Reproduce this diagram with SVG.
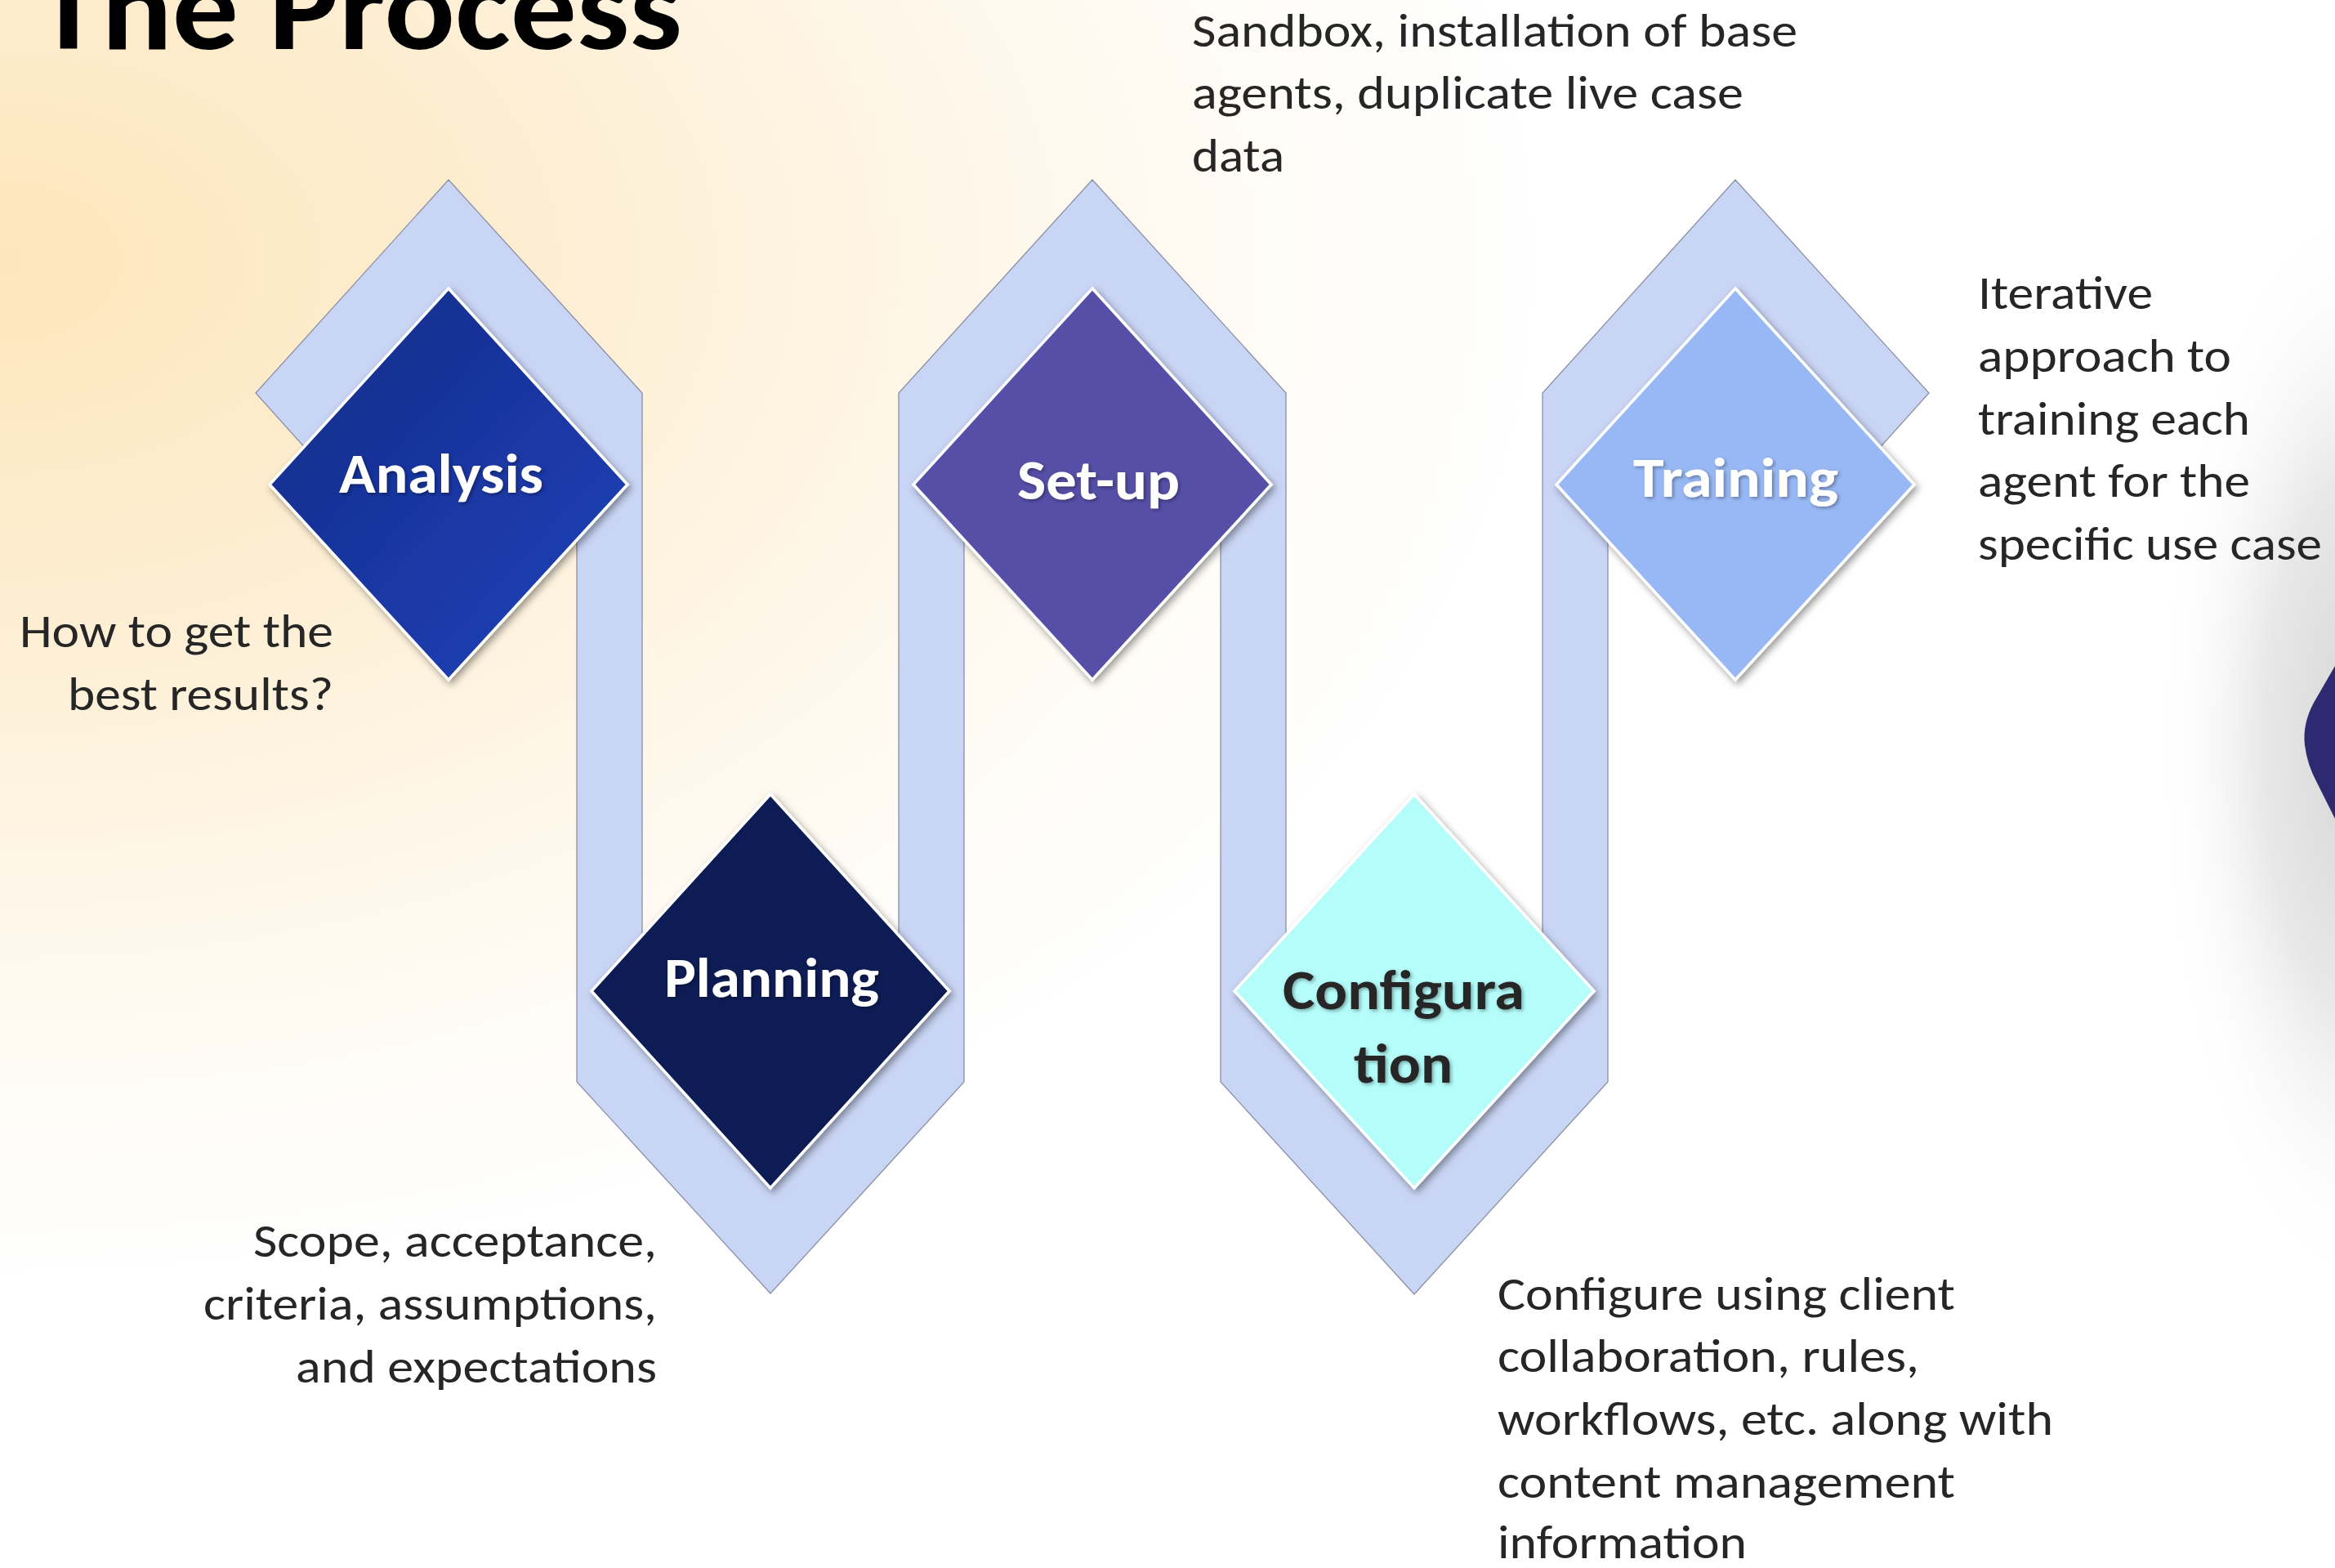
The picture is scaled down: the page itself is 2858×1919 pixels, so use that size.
<svg xmlns="http://www.w3.org/2000/svg" width="2858" height="1919" viewBox="0 0 2858 1919">
<defs>
<radialGradient id="bg" gradientUnits="userSpaceOnUse" cx="0" cy="320" r="1000" gradientTransform="translate(0,320) scale(1.9,1.25) translate(0,-320)">
<stop offset="0" stop-color="#fde6bb"/>
<stop offset="0.3" stop-color="#fdedcf"/>
<stop offset="0.6" stop-color="#fef6e7"/>
<stop offset="0.85" stop-color="#fffdf9"/>
<stop offset="1" stop-color="#ffffff"/>
</radialGradient>
<radialGradient id="rshade" gradientUnits="userSpaceOnUse" cx="2900" cy="910" r="260" gradientTransform="translate(2900,910) scale(1,2.6) translate(-2900,-910)">
<stop offset="0" stop-color="#d4d4d4"/>
<stop offset="0.5" stop-color="#e8e8e8"/>
<stop offset="1" stop-color="#ffffff" stop-opacity="0"/>
</radialGradient>
<linearGradient id="gA" x1="0" y1="0" x2="1" y2="1">
<stop offset="0" stop-color="#142a86"/>
<stop offset="1" stop-color="#1f42bc"/>
</linearGradient>
<filter id="sh" x="-20%" y="-20%" width="140%" height="140%">
<feDropShadow dx="3" dy="4" stdDeviation="5" flood-color="#000" flood-opacity="0.4"/>
</filter>
<filter id="tsh" x="-10%" y="-30%" width="120%" height="160%">
<feDropShadow dx="2" dy="2" stdDeviation="2" flood-color="#000" flood-opacity="0.35"/>
</filter>
<style>
.ribbon{fill:#c9d5f4;stroke:#8b90a6;stroke-width:1.3;stroke-linejoin:miter}
.dia{stroke:#ffffff;stroke-width:3.5;filter:url(#sh)}
.lbl{font-family:Carlito,Calibri,Lato,"Open Sans",sans-serif;font-weight:bold;font-size:68px;filter:url(#tsh)}
.body{font-family:Carlito,Calibri,Lato,"Open Sans",sans-serif;font-size:58px;fill:#262626}
.title{font-family:Carlito,Calibri,Lato,"Open Sans",sans-serif;font-weight:900;font-size:150px;fill:#000}
</style>
</defs>
<rect x="0" y="0" width="2858" height="1919" fill="url(#bg)"/>
<rect x="2560" y="150" width="298" height="1600" fill="url(#rshade)"/>
<path d="M2858,815 L2832,860 Q2818,886 2821,912 Q2824,936 2836,958 L2858,1002 Z" fill="#2e2a72"/>

<text class="title" x="44" y="60" textLength="791" lengthAdjust="spacingAndGlyphs">The Process</text>

<g id="connectors">
<path class="ribbon" d="M313,481 L549,220 L786,481 L786,1200 L943,1300 L1100,1200 L1100,481 L1337,220 L1574,481 L1574,1200 L1731,1300 L1888,1200 L1888,481 L2124,220 L2361,481 L2290,560 L2124,450 L1968,600 L1968,1324 L1731,1584 L1494,1324 L1494,600 L1337,450 L1180,600 L1180,1324 L943,1583 L706,1324 L706,600 L549,450 L420,600 Z"/>
</g>

<g id="analysis">
<polygon class="dia" fill="url(#gA)" points="549,353 768,593 549,832 330,593"/>
<text class="lbl" fill="#ffffff" x="415" y="603" textLength="250" lengthAdjust="spacingAndGlyphs">Analysis</text>
</g>
<g id="planning">
<polygon class="dia" fill="#081c55" points="943,972 1162,1213 943,1454 724,1213"/>
<text class="lbl" fill="#ffffff" x="813" y="1220" textLength="263" lengthAdjust="spacingAndGlyphs">Planning</text>
</g>
<g id="setup">
<polygon class="dia" fill="#5650a8" points="1337,353 1556,593 1337,832 1118,593"/>
<text class="lbl" fill="#ffffff" x="1245" y="611" textLength="199" lengthAdjust="spacingAndGlyphs">Set-up</text>
</g>
<g id="configuration">
<polygon class="dia" fill="#b4fdfb" points="1731,972 1951,1213 1731,1454 1511,1213"/>
<text class="lbl" fill="#262626" x="1570" y="1235" textLength="296" lengthAdjust="spacingAndGlyphs">Configura</text>
<text class="lbl" fill="#262626" x="1657" y="1325" textLength="121" lengthAdjust="spacingAndGlyphs">tion</text>
</g>
<g id="training">
<polygon class="dia" fill="#98b8f5" points="2124,353 2343,593 2124,832 1905,593"/>
<text class="lbl" fill="#ffffff" x="1999" y="608" textLength="251" lengthAdjust="spacingAndGlyphs">Training</text>
</g>

<g id="note-analysis">
<text class="body" x="24" y="792" textLength="384" lengthAdjust="spacingAndGlyphs">How to get the</text>
<text class="body" x="83" y="869" textLength="325" lengthAdjust="spacingAndGlyphs">best results?</text>
</g>
<g id="note-planning">
<text class="body" x="310" y="1538" textLength="494" lengthAdjust="spacingAndGlyphs">Scope, acceptance,</text>
<text class="body" x="249" y="1615" textLength="555" lengthAdjust="spacingAndGlyphs">criteria, assumptions,</text>
<text class="body" x="362" y="1692" textLength="442" lengthAdjust="spacingAndGlyphs">and expectations</text>
</g>
<g id="note-setup">
<text class="body" x="1459" y="57" textLength="741" lengthAdjust="spacingAndGlyphs">Sandbox, installation of base</text>
<text class="body" x="1459" y="133" textLength="675" lengthAdjust="spacingAndGlyphs">agents, duplicate live case</text>
<text class="body" x="1459" y="210" textLength="113" lengthAdjust="spacingAndGlyphs">data</text>
</g>
<g id="note-configuration">
<text class="body" x="1833" y="1603" textLength="560" lengthAdjust="spacingAndGlyphs">Configure using client</text>
<text class="body" x="1833" y="1679" textLength="516" lengthAdjust="spacingAndGlyphs">collaboration, rules,</text>
<text class="body" x="1833" y="1756" textLength="680" lengthAdjust="spacingAndGlyphs">workflows, etc. along with</text>
<text class="body" x="1833" y="1833" textLength="560" lengthAdjust="spacingAndGlyphs">content management</text>
<text class="body" x="1833" y="1907" textLength="305" lengthAdjust="spacingAndGlyphs">information</text>
</g>
<g id="note-training">
<text class="body" x="2421" y="378" textLength="214" lengthAdjust="spacingAndGlyphs">Iterative</text>
<text class="body" x="2421" y="455" textLength="310" lengthAdjust="spacingAndGlyphs">approach to</text>
<text class="body" x="2421" y="532" textLength="333" lengthAdjust="spacingAndGlyphs">training each</text>
<text class="body" x="2421" y="608" textLength="333" lengthAdjust="spacingAndGlyphs">agent for the</text>
<text class="body" x="2421" y="685" textLength="421" lengthAdjust="spacingAndGlyphs">specific use case</text>
</g>
</svg>
